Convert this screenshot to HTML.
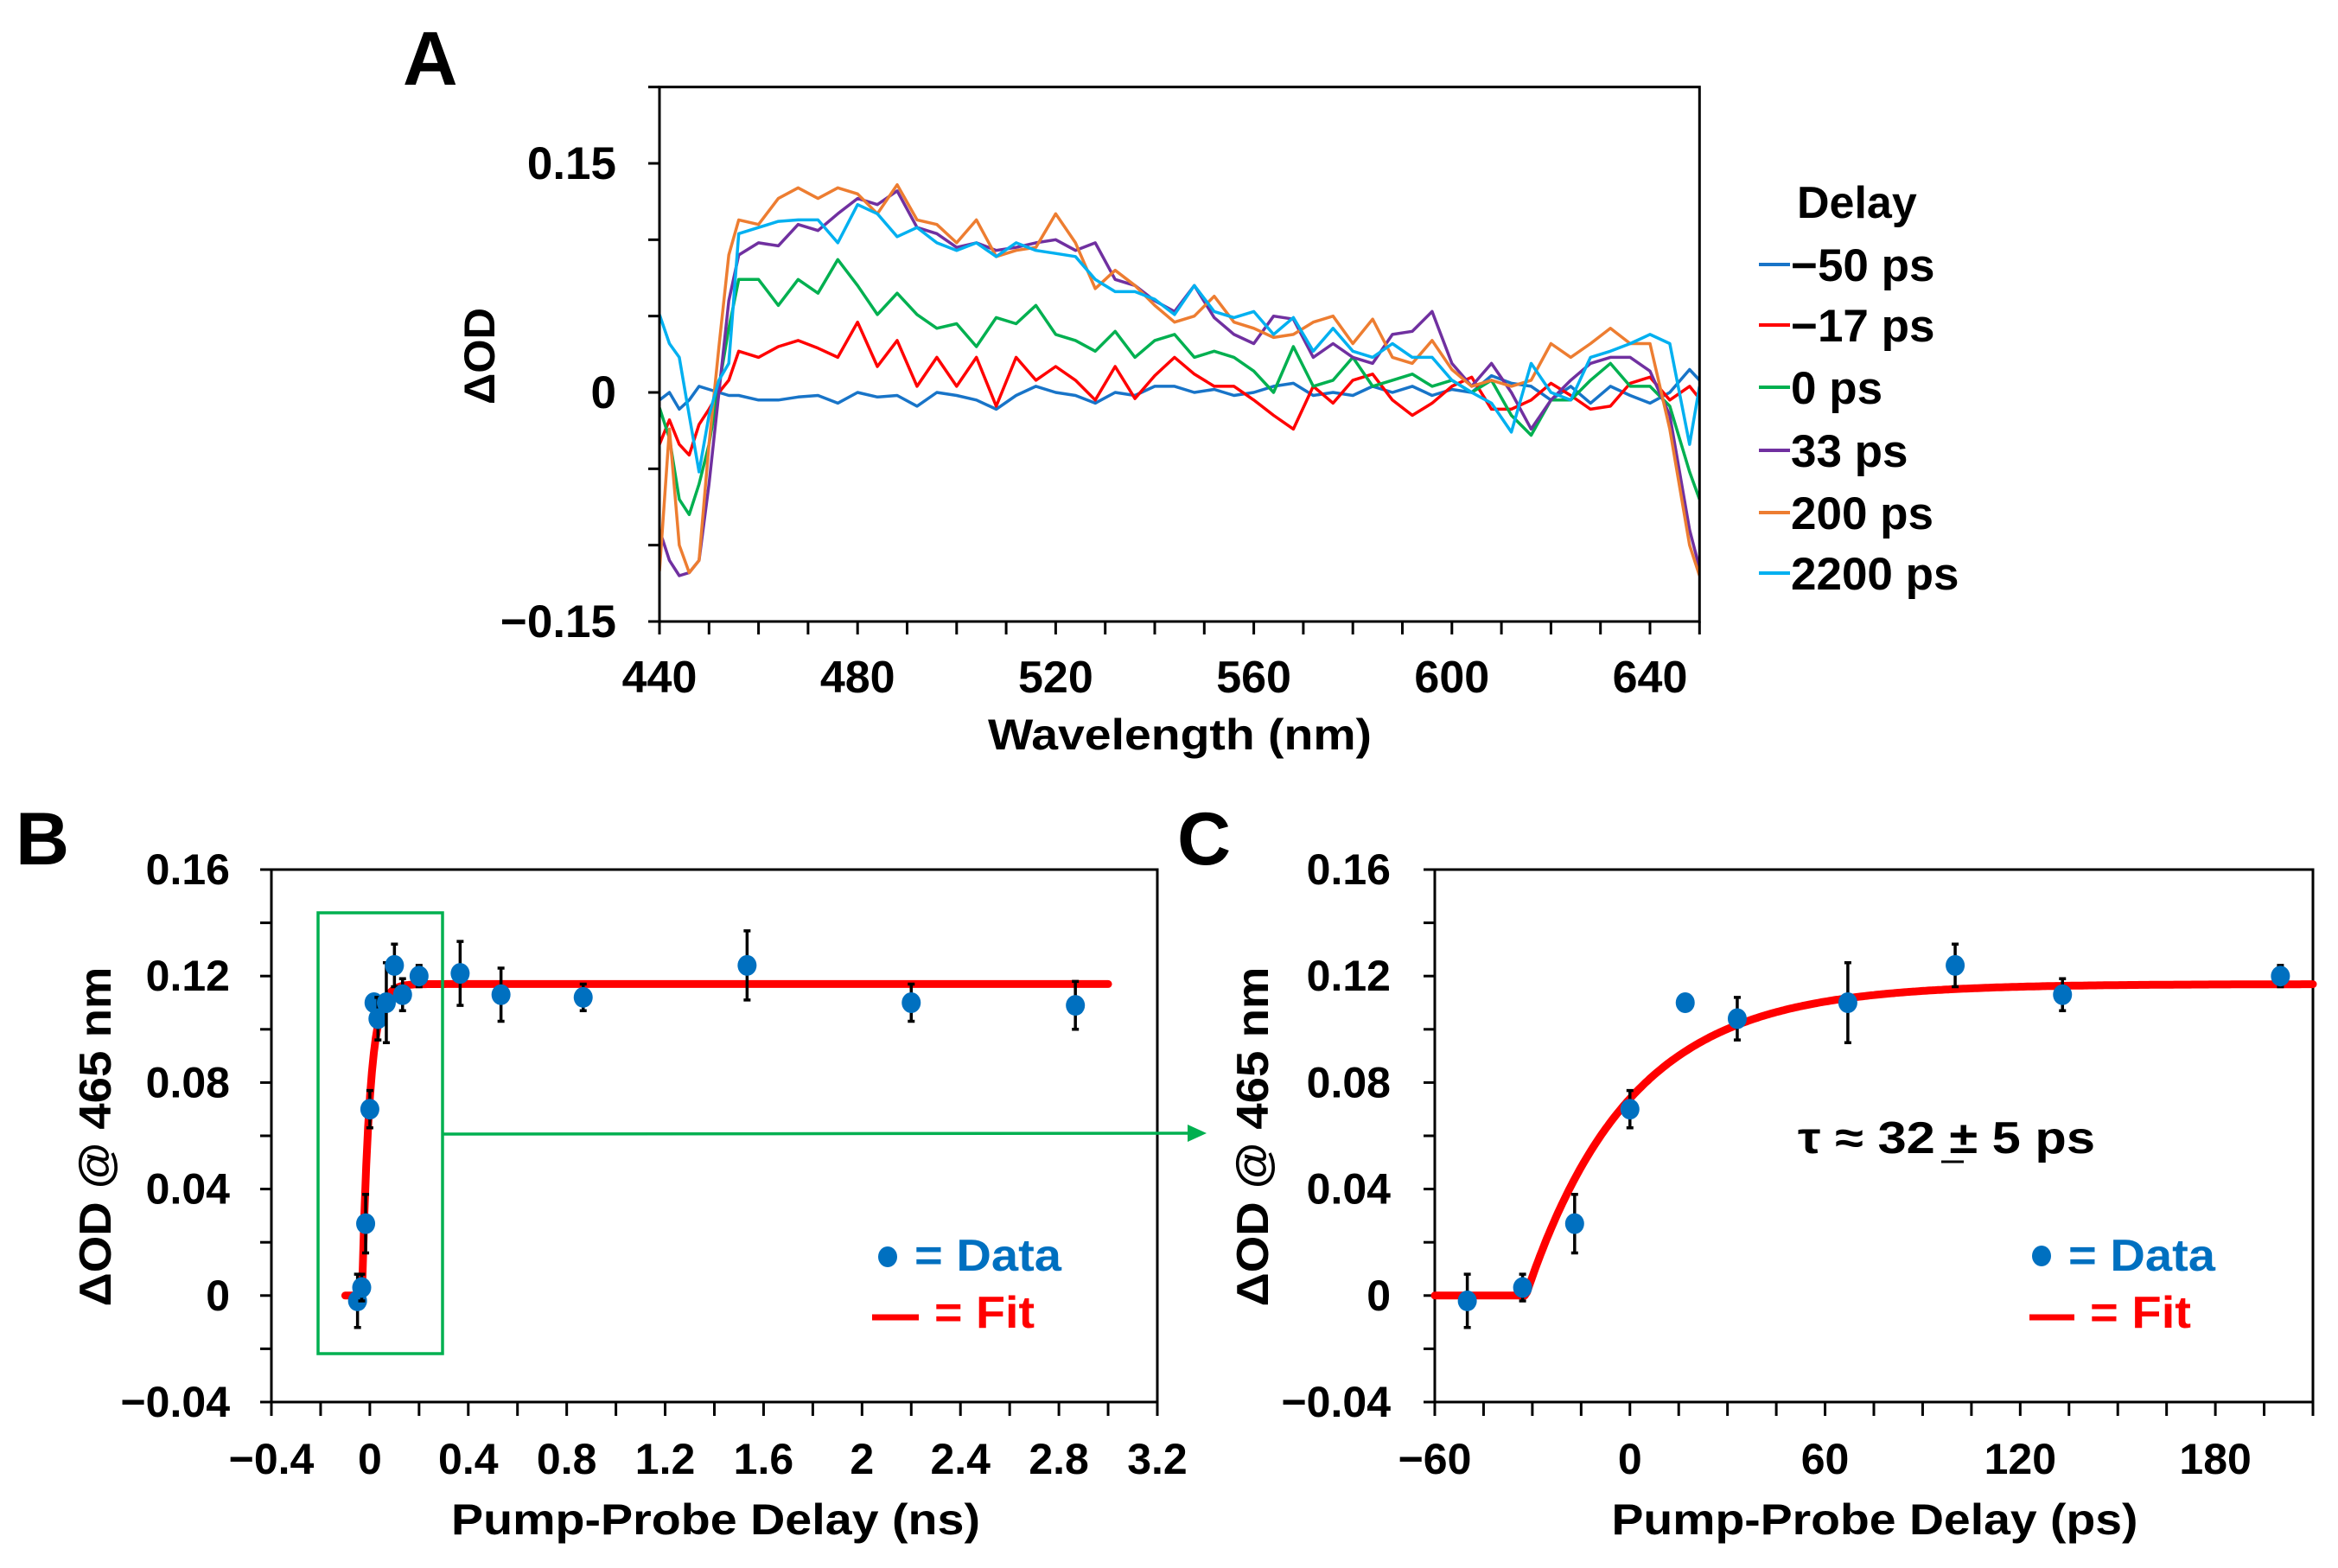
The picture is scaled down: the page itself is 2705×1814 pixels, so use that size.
<!DOCTYPE html>
<html><head><meta charset="utf-8"><title>Transient absorption figure</title>
<style>
html,body{margin:0;padding:0;background:#fff;}
svg{display:block;font-family:"Liberation Sans",Arial,sans-serif;font-weight:bold;}
</style></head>
<body>
<svg id="fig" xmlns="http://www.w3.org/2000/svg" width="2705" height="1814" viewBox="0 0 2705 1814">
<rect x="0" y="0" width="2705" height="1814" fill="#fff"/>
<g id="panelA"></g>
<g id="panelB"></g>
<g id="panelC"></g>
</svg>
<script>
// ---------- Panel A data (ΔOD in mOD) ----------
const wavelengths = [440,442,444,446,448,450,452,454,456,460,464,468,472,476,480,484,488,492,496,500,504,508,512,516,520,524,528,532,536,540,544,548,552,556,560,564,568,572,576,580,584,588,592,596,600,604,608,612,616,620,624,628,632,636,640,644,648,650];
const delayLabels = ["\u221250 ps","\u221217 ps","0 ps","33 ps","200 ps","2200 ps"];
const seriesM50 = [-5,0,-11,-5,4,2,0,-2,-2,-5,-5,-3,-2,-7,0,-3,-2,-9,0,-2,-5,-11,-2,4,0,-2,-7,0,-2,4,4,0,2,-2,0,4,6,-2,0,-2,4,0,4,-2,2,0,11,6,4,-5,4,-7,4,-2,-7,0,15,8];
const seriesM17 = [-34,-18,-34,-41,-21,-11,0,8,27,23,30,34,29,23,46,17,34,4,23,4,23,-9,23,8,17,8,-5,17,-4,11,23,12,4,4,-5,-15,-24,4,-7,8,12,-5,-15,-7,4,10,-11,-11,-5,6,-2,-11,-9,6,10,-5,4,-4];
const series0 = [-10,-30,-70,-80,-60,-34,4,42,74,74,57,74,65,87,70,51,65,51,42,45,30,49,45,57,38,34,27,40,23,34,38,23,27,23,14,0,30,4,8,23,4,8,12,4,8,0,8,-15,-28,-5,-5,8,19,4,4,-9,-52,-70];
const series33 = [-90,-110,-120,-118,-110,-60,0,60,90,98,96,110,106,117,127,123,132,108,104,95,98,93,95,98,100,93,98,74,70,60,53,70,49,38,32,50,48,23,32,23,19,38,40,53,19,4,19,0,-24,-5,8,19,23,23,14,-15,-90,-115];
const series200 = [-117,-24,-100,-118,-110,-34,30,90,113,110,127,134,127,134,130,117,136,113,110,98,113,89,93,95,117,98,68,80,70,57,46,50,63,46,42,36,38,46,50,32,48,23,19,34,15,4,8,4,8,32,23,32,42,32,32,-24,-100,-120];
const series2200 = [51,32,23,-15,-52,-15,8,19,104,108,112,113,113,98,123,117,102,108,98,93,98,89,98,93,91,89,74,66,66,61,51,70,53,49,53,38,49,27,42,27,23,32,23,23,8,0,-7,-26,19,0,-5,23,27,32,38,32,-34,4];
const seriesColors = ["#1874c8","#ff0000","#00b050","#7030a0","#ed7d31","#00b0f0"];
const aYTickLabels = ["\u22120.15","0","0.15"];
const aYTickValues = [-0.15,0,0.15];
const aXTickValues = [440,480,520,560,600,640];

// ---------- Panel B data (ns) ----------
const bTimes = [-0.05,-0.033,-0.017,0,0.017,0.033,0.067,0.1,0.133,0.2,0.367,0.533,0.867,1.533,2.2,2.867];
const bValues = [-0.002,0.003,0.027,0.07,0.11,0.104,0.11,0.124,0.113,0.12,0.121,0.113,0.112,0.124,0.11,0.109];
const bErrors = [0.01,0.005,0.011,0.007,0,0.008,0.015,0.008,0.006,0.004,0.012,0.01,0.005,0.013,0.007,0.009];
const bXTickLabels = ["\u22120.4","0","0.4","0.8","1.2","1.6","2","2.4","2.8","3.2"];
const yTickLabelsBC = ["\u22120.04","0","0.04","0.08","0.12","0.16"];

// ---------- Panel C data (ps) ----------
const cTimes = [-50,-33,-17,0,17,33,67,100,133,200];
const cValues = [-0.002,0.003,0.027,0.07,0.11,0.104,0.11,0.124,0.113,0.12];
const cErrors = [0.01,0.005,0.011,0.007,0,0.008,0.015,0.008,0.006,0.004];
const cXTickLabels = ["\u221260","0","60","120","180"];
const fitAmp = [0.117];
const fitT0ps = [-32];
const fitTauPs = [32];

const NS = "http://www.w3.org/2000/svg";
function el(parent, tag, attrs, text){
  const e = document.createElementNS(NS, tag);
  for (const k in attrs) e.setAttribute(k, attrs[k]);
  if (text !== undefined) e.textContent = text;
  parent.appendChild(e);
  return e;
}

const xA = l => 763 + (l - 440) * 1146 / 200;
const yA = v => 454 - v / 0.15 * 265;
const xB = t => 314 + (t + 0.4) / 3.6 * 1025;
const yBC = v => 1006 + (0.16 - v) / 0.2 * 616;
const xC = t => 1660 + (t + 60) / 270 * 1016;

// ---------- Panel A ----------
(function(){
  const g = document.getElementById('panelA');
  const L = xA(440), R = xA(650), T = yA(0.2), B = yA(-0.15);
  const lab = el(g,'text',{x:466,y:98,'font-size':88}, 'A');
   
  const allSeries = [seriesM50, seriesM17, series0, series33, series200, series2200];
  const clip = el(g,'clipPath',{id:'clipA'}); el(clip,'rect',{x:L,y:T,width:R-L,height:B-T});
  allSeries.forEach((s,i)=>{
    const d = s.map((v,j)=>(j?'L':'M')+xA(wavelengths[j]).toFixed(1)+' '+yA(v/1000).toFixed(1)).join(' ');
    const p = el(g,'path',{d:d,fill:'none',stroke:seriesColors[i],'stroke-width':3.5,'stroke-linejoin':'round','clip-path':'url(#clipA)'});
    
    
  });
  const frame = el(g,'rect',{x:L,y:T,width:R-L,height:B-T,fill:'none',stroke:'#000','stroke-width':3});
   
  for (let v=-0.15; v<=0.2001; v+=0.05){ el(g,'line',{x1:L-13,x2:L,y1:yA(v),y2:yA(v),stroke:'#000','stroke-width':3}); }
  for (let l=440; l<=650; l+=10){ el(g,'line',{x1:xA(l),x2:xA(l),y1:B,y2:B+15,stroke:'#000','stroke-width':3}); }
  aYTickValues.forEach((v,i)=>{
    const t = el(g,'text',{x:713,y:yA(v)+18,'font-size':53,'text-anchor':'end'}, aYTickLabels[i]);
     
  });
  aXTickValues.forEach(l=>{
    const t = el(g,'text',{x:xA(l),y:801,'font-size':52,'text-anchor':'middle'}, String(l));
     
  });
  const xt = el(g,'text',{x:1365,y:867,'font-size':50,'text-anchor':'middle',textLength:444,lengthAdjust:'spacingAndGlyphs'},'Wavelength (nm)');
   
  const yt = el(g,'text',{x:0,y:0,'font-size':50,'text-anchor':'middle',transform:'translate(572,412) rotate(-90)',textLength:112,lengthAdjust:'spacingAndGlyphs'},'\u0394OD');
   
  const lt = el(g,'text',{x:2079,y:252,'font-size':52},'Delay');
   
  const rowY = [306,376,448,521,593,663];
  delayLabels.forEach((s,i)=>{
    const ln = el(g,'line',{x1:2035,x2:2071,y1:rowY[i],y2:rowY[i],stroke:seriesColors[i],'stroke-width':4});
     
    const t = el(g,'text',{x:2072,y:rowY[i]+19,'font-size':53}, s);
     
  });
})();

function drawPanel(g, xf, L, R, xTickStep, xMin, xMax, xLabelVals, xLabels, times, vals, errs, fitFn, fitStart, fitEnd, name){
  const T = yBC(0.16), B = yBC(-0.04);
  for (let v=-0.04; v<=0.1601; v+=0.02){ el(g,'line',{x1:L-13,x2:L,y1:yBC(v),y2:yBC(v),stroke:'#000','stroke-width':3}); }
  for (let t=xMin; t<=xMax+1e-9; t+=xTickStep){ el(g,'line',{x1:xf(t),x2:xf(t),y1:B,y2:B+16,stroke:'#000','stroke-width':3}); }
  const frame = el(g,'rect',{x:L,y:T,width:R-L,height:B-T,fill:'none',stroke:'#000','stroke-width':3});
   
  let d=''; const N=400;
  for (let i=0;i<=N;i++){ const t=fitStart+(fitEnd-fitStart)*i/N; d+=(i?'L':'M')+xf(t).toFixed(1)+' '+yBC(fitFn(t)).toFixed(1)+' '; }
  const fp = el(g,'path',{d:d,fill:'none',stroke:'#ff0000','stroke-width':9,'stroke-linecap':'round','stroke-linejoin':'round'});
   
  times.forEach((t,i)=>{
    if (errs[i]>0){
      const x=xf(t), y1=yBC(vals[i]+errs[i]), y2=yBC(vals[i]-errs[i]);
      const eb = el(g,'path',{d:`M${x} ${y1} L${x} ${y2} M${x-4} ${y1} L${x+4} ${y1} M${x-4} ${y2} L${x+4} ${y2}`,stroke:'#000','stroke-width':3.5,fill:'none'});
       
    }
    const c = el(g,'ellipse',{cx:xf(t),cy:yBC(vals[i]),rx:11,ry:12,fill:'#0070c0'});
     
  });
  const yLabX = name==='b' ? 266 : 1609;
  yTickLabelsBC.forEach((s,i)=>{
    const t = el(g,'text',{x:yLabX,y:yBC(-0.04+0.04*i)+17,'font-size':50,'text-anchor':'end'}, s);
     
  });
  xLabelVals.forEach((v,i)=>{
    const t = el(g,'text',{x:xf(v),y:1705,'font-size':50,'text-anchor':'middle'}, xLabels[i]);
     
  });
}

// ---------- Panel B ----------
(function(){
  const g = document.getElementById('panelB');
  const lab = el(g,'text',{x:18,y:1000,'font-size':86},'B');
   
  const A=fitAmp[0], t0=fitT0ps[0]/1000, tau=fitTauPs[0]/1000;
  const f = t => t<=t0 ? 0 : A*(1-Math.exp(-(t-t0)/tau));
  const xv = [-0.4,0,0.4,0.8,1.2,1.6,2,2.4,2.8,3.2];
  drawPanel(g, xB, 314, 1339, 0.2, -0.4, 3.2, xv, bXTickLabels, bTimes, bValues, bErrors, f, -0.1, 3.0, 'b');
  const box = el(g,'rect',{x:368,y:1056,width:144,height:510,fill:'none',stroke:'#00b050','stroke-width':3.5});
   
  const ar = el(g,'line',{x1:512,y1:1312,x2:1378,y2:1311,stroke:'#00b050','stroke-width':3.5});
   
  const ah = el(g,'polygon',{points:'1396,1311 1374,1301 1374,1321',fill:'#00b050'});
   
  const xt = el(g,'text',{x:828,y:1775,'font-size':50,'text-anchor':'middle',textLength:612,lengthAdjust:'spacingAndGlyphs'},'Pump-Probe Delay (ns)');
   
  const yt = el(g,'text',{x:0,y:0,'font-size':52,'text-anchor':'middle',transform:'translate(128,1315) rotate(-90)',textLength:393,lengthAdjust:'spacingAndGlyphs'},'\u0394OD @ 465 nm');
   
  const ld = el(g,'ellipse',{cx:1027,cy:1454,rx:11,ry:12,fill:'#0070c0'});
   
  const lt = el(g,'text',{x:1058,y:1470,'font-size':52,fill:'#0070c0',textLength:170,lengthAdjust:'spacingAndGlyphs'},'= Data');
   
  const lf = el(g,'line',{x1:1009,x2:1063,y1:1524,y2:1524,stroke:'#ff0000','stroke-width':7});
   
  const lft = el(g,'text',{x:1081,y:1536,'font-size':52,fill:'#ff0000',textLength:116,lengthAdjust:'spacingAndGlyphs'},'= Fit');
   
})();

// ---------- Panel C ----------
(function(){
  const g = document.getElementById('panelC');
  const lab = el(g,'text',{x:1362,y:1000,'font-size':86},'C');
   
  const A=fitAmp[0], t0=fitT0ps[0], tau=fitTauPs[0];
  const f = t => t<=t0 ? 0 : A*(1-Math.exp(-(t-t0)/tau));
  drawPanel(g, xC, 1660, 2676, 15, -60, 210, [-60,0,60,120,180], cXTickLabels, cTimes, cValues, cErrors, f, -60, 210, 'c');
  const tt = el(g,'text',{x:2080,y:1334,'font-size':52,textLength:344,lengthAdjust:'spacingAndGlyphs'},'\u03c4 \u2248 32 \u00b1 5 ps');
   
  const ul = el(g,'line',{x1:2246,x2:2272,y1:1344,y2:1344,stroke:'#000','stroke-width':3});
   
  const xt = el(g,'text',{x:2169,y:1775,'font-size':50,'text-anchor':'middle',textLength:609,lengthAdjust:'spacingAndGlyphs'},'Pump-Probe Delay (ps)');
   
  const yt = el(g,'text',{x:0,y:0,'font-size':52,'text-anchor':'middle',transform:'translate(1467,1315) rotate(-90)',textLength:393,lengthAdjust:'spacingAndGlyphs'},'\u0394OD @ 465 nm');
   
  const ld = el(g,'ellipse',{cx:2362,cy:1453,rx:11,ry:12,fill:'#0070c0'});
   
  const lt = el(g,'text',{x:2393,y:1470,'font-size':52,fill:'#0070c0',textLength:170,lengthAdjust:'spacingAndGlyphs'},'= Data');
   
  const lf = el(g,'line',{x1:2348,x2:2400,y1:1524,y2:1524,stroke:'#ff0000','stroke-width':7});
   
  const lft = el(g,'text',{x:2418,y:1536,'font-size':52,fill:'#ff0000',textLength:117,lengthAdjust:'spacingAndGlyphs'},'= Fit');
   
})();
</script>
</body></html>
